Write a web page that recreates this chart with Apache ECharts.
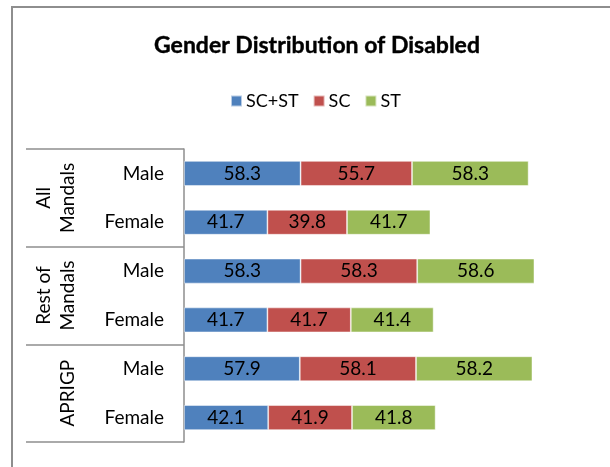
<!DOCTYPE html>
<html>
<head>
<meta charset="utf-8">
<script src="https://cdn.jsdelivr.net/npm/echarts@6/dist/echarts.min.js"></script>
<style>
html,body{margin:0;padding:0;background:#fff;}
#chart{width:610px;height:467px;}
#frame{position:absolute;left:11px;top:6px;width:700px;height:600px;border-left:2px solid #8e8e8e;border-top:2px solid #8e8e8e;pointer-events:none;}
</style>
</head>
<body>
<div id="chart"></div>
<div id="frame"></div>
<script>
const titleText = 'Gender Distribution of Disabled';
const groups = ['All\nMandals', 'Rest of\nMandals', 'APRIGP'];
const categories = ['Male', 'Female', 'Male', 'Female', 'Male', 'Female'];
const seriesNames = ['SC+ST', 'SC', 'ST'];
const scst = [58.3, 41.7, 58.3, 41.7, 57.9, 42.1];
const sc = [55.7, 39.8, 58.3, 41.7, 58.1, 41.9];
const st = [58.3, 41.7, 58.6, 41.4, 58.2, 41.8];
const colors = ['#4F81BD', '#C0504D', '#9BBB59'];

const FONT = 'Lato';
const chart = echarts.init(document.getElementById('chart'), null, {renderer: 'canvas'});
const values = [scst, sc, st];
chart.setOption({
  animation: false,
  textStyle: {fontFamily: FONT},
  title: {
    text: titleText, left: 312, textAlign: 'center', top: 29,
    textStyle: {fontFamily: FONT, fontWeight: 'bold', fontSize: 23, color: '#000',
      textBorderColor: '#000', textBorderWidth: 0.4}
  },
  legend: {
    data: seriesNames, left: 225, top: 87, itemWidth: 11, itemHeight: 11, itemGap: 14,
    icon: 'rect',
    textStyle: {fontFamily: FONT, fontSize: 18, color: '#000', padding: [0, 0, 0, -1]}
  },
  grid: {left: 184, right: 26, top: 149, bottom: 25, containLabel: false},
  xAxis: {type: 'value', min: 0, max: 200, show: false},
  yAxis: [
    {
      type: 'category', data: categories, inverse: true,
      axisLine: {show: true, lineStyle: {color: '#8e8e8e', width: 1.5}},
      axisTick: {show: false},
      axisLabel: {margin: 20, fontFamily: FONT, fontSize: 19, color: '#000', align: 'right'}
    },
    {
      type: 'category', data: groups, inverse: true, position: 'left',
      axisLine: {show: false},
      axisTick: {show: true, length: 158, lineStyle: {color: '#8e8e8e', width: 1.5}},
      axisLabel: {rotate: 90, margin: 104, fontFamily: FONT, fontSize: 19, color: '#000', lineHeight: 24}
    }
  ],
  series: seriesNames.map((n, i) => ({
    name: n, type: 'bar', stack: 'total', yAxisIndex: 0,
    data: values[i], barCategoryGap: '49%',
    itemStyle: {color: colors[i], borderColor: 'rgba(255,255,255,0.6)', borderWidth: 0.8},
    label: {show: true, position: 'inside', color: '#000', fontFamily: FONT, fontSize: 19,
      formatter: p => p.value.toFixed(1)}
  }))
});
</script>
</body>
</html>
